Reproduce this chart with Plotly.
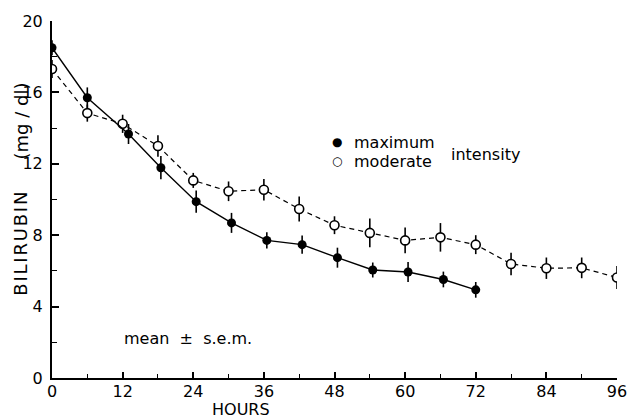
import plotly.graph_objects as go

# Data
hours_max = [0, 6, 13, 18.5, 24.5, 30.5, 36.5, 42.5, 48.5, 54.5, 60.5, 66.5, 72]
bili_max = [18.5, 15.7, 13.67, 11.78, 9.88, 8.69, 7.71, 7.47, 6.74, 6.05, 5.94, 5.52, 4.94]
sem_max = [0.42, 0.58, 0.56, 0.65, 0.62, 0.56, 0.46, 0.51, 0.56, 0.42, 0.56, 0.44, 0.44]

hours_mod = [0, 6, 12, 18, 24, 30, 36, 42, 48, 54, 60, 66, 72, 78, 84, 90, 96]
bili_mod = [17.31, 14.84, 14.24, 13.0, 11.07, 10.46, 10.55, 9.47, 8.56, 8.13, 7.71, 7.88, 7.47, 6.39, 6.15, 6.17, 5.63]
sem_mod = [0.51, 0.48, 0.51, 0.6, 0.42, 0.55, 0.6, 0.7, 0.5, 0.8, 0.72, 0.8, 0.53, 0.63, 0.6, 0.58, 0.65]

x_ticks = [0, 12, 24, 36, 48, 60, 72, 84, 96]
y_ticks = [0, 4, 8, 12, 16, 20]

FONT = "DejaVu Sans"

fig = go.Figure()

fig.add_trace(go.Scatter(
    x=hours_mod, y=bili_mod, mode="lines+markers",
    line=dict(color="black", width=1.2, dash="5px,4px"),
    marker=dict(symbol="circle", size=9, color="white", line=dict(color="black", width=1.6)),
    error_y=dict(type="data", array=sem_mod, visible=True, color="black", thickness=1.6, width=0),
    showlegend=False,
))
fig.add_trace(go.Scatter(
    x=hours_max, y=bili_max, mode="lines+markers",
    line=dict(color="black", width=1.4),
    marker=dict(symbol="circle", size=9, color="black"),
    error_y=dict(type="data", array=sem_max, visible=True, color="black", thickness=1.6, width=0),
    showlegend=False,
))


def px_x(px):
    return (px - 52) / (617 - 52)


def px_y(py):
    return (378 - py) / (378 - 19)


annots = [
    dict(x=px_x(337), y=px_y(141), text="●", size=12, xanchor="center"),
    dict(x=px_x(337), y=px_y(160), text="○", size=12, xanchor="center"),
    dict(x=px_x(352), y=px_y(141), text="maximum", size=16, xanchor="left"),
    dict(x=px_x(352), y=px_y(160), text="moderate", size=16, xanchor="left"),
    dict(x=px_x(449), y=px_y(153), text="intensity", size=16, xanchor="left"),
    dict(x=px_x(122), y=px_y(338), text="mean  ±  s.e.m.", size=16, xanchor="left"),
    dict(x=px_x(241), y=px_y(410), text="HOURS", size=16, xanchor="center"),
]
for a in annots:
    fig.add_annotation(x=a["x"], y=a["y"], xref="paper", yref="paper", text=a["text"],
                       showarrow=False, xanchor=a["xanchor"], yanchor="middle",
                       font=dict(family=FONT, size=a["size"], color="black"))

hs = "\u200a"
fig.add_annotation(x=px_x(21), y=px_y(243), xref="paper", yref="paper",
                   text=hs.join("BILIRUBIN"), textangle=-90, showarrow=False,
                   xanchor="center", yanchor="middle",
                   font=dict(family=FONT, size=18, color="black"))
fig.add_annotation(x=px_x(21), y=px_y(120), xref="paper", yref="paper",
                   text="(mg / dl)", textangle=-90, showarrow=False,
                   xanchor="center", yanchor="middle",
                   font=dict(family=FONT, size=18, color="black"))

fig.update_layout(
    width=639, height=419,
    margin=dict(l=52, r=22, t=19, b=41),
    plot_bgcolor="white", paper_bgcolor="white",
    font=dict(family=FONT, size=16, color="black"),
    xaxis=dict(range=[0, 96], tickmode="array", tickvals=x_ticks, ticktext=[str(v) for v in x_ticks],
               ticks="inside", ticklen=6, tickwidth=1.5, tickcolor="black",
               minor=dict(ticks="inside", ticklen=4, tickwidth=1.2, tickcolor="black", dtick=6, tick0=0),
               showline=True, linecolor="black", linewidth=2, showgrid=False, zeroline=False,
               ticklabelstandoff=-2, tickfont=dict(family=FONT, size=16)),
    yaxis=dict(range=[0, 20], tickmode="array", tickvals=y_ticks, ticktext=[str(v) for v in y_ticks],
               ticks="inside", ticklen=7, tickwidth=1.5, tickcolor="black",
               minor=dict(ticks="inside", ticklen=5, tickwidth=1.2, tickcolor="black", dtick=2, tick0=0),
               showline=True, linecolor="black", linewidth=2, showgrid=False, zeroline=False,
               ticklabelstandoff=4, tickfont=dict(family=FONT, size=16)),
)

fig.write_html("out.html", config={"displayModeBar": False},
               post_script="document.body.style.margin='0px';document.body.style.overflow='hidden';")
